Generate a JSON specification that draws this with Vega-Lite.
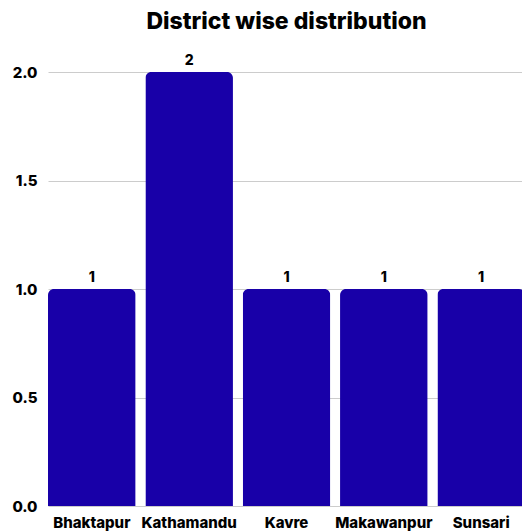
{
  "$schema": "https://vega.github.io/schema/vega-lite/v6.json",
  "autosize": "none",
  "width": 477,
  "height": 434,
  "padding": {"left": 48, "top": 72, "right": 0, "bottom": 26},
  "background": "white",
  "title": {"text": "District wise distribution", "font": "Inter", "fontSize": 23, "fontWeight": 800, "color": "#000000", "anchor": "middle", "offset": 20},
  "data": {"values": [
    {"district": "Bhaktapur", "count": 1},
    {"district": "Kathamandu", "count": 2},
    {"district": "Kavre", "count": 1},
    {"district": "Makawanpur", "count": 1},
    {"district": "Sunsari", "count": 1}
  ]},
  "config": {"view": {"stroke": null}},
  "encoding": {
    "x": {"field": "district", "type": "nominal", "sort": null,
      "scale": {"paddingInner": 0.1, "paddingOuter": 0},
      "axis": {"title": null, "labelAngle": 0, "labelFont": "Inter", "labelFontSize": 15, "labelFontWeight": 800, "labelColor": "#000", "domain": false, "ticks": false, "labelPadding": 9}},
    "y": {"field": "count", "type": "quantitative",
      "scale": {"domain": [0, 2]},
      "axis": {"title": null, "values": [0, 0.5, 1, 1.5, 2], "format": ".1f", "labelFont": "Inter", "labelFontSize": 15, "labelFontWeight": 800, "labelColor": "#000", "domain": false, "ticks": false, "labelPadding": 11, "gridColor": "#cccccc", "gridWidth": 1}}
  },
  "layer": [
    {"mark": {"type": "bar", "color": "#1800A8", "cornerRadiusTopLeft": 6, "cornerRadiusTopRight": 6}},
    {"mark": {"type": "text", "font": "Inter", "fontSize": 14, "fontWeight": 800, "color": "#000", "baseline": "bottom", "dy": -4},
     "encoding": {"text": {"field": "count", "type": "quantitative"}}}
  ]
}
